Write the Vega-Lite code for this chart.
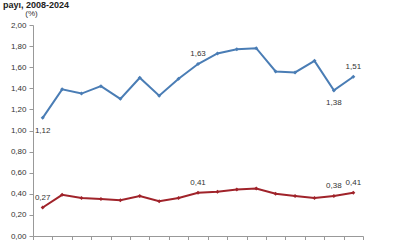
{
  "$schema": "https://vega.github.io/schema/vega-lite/v6.json",
  "width": 330,
  "height": 211,
  "autosize": {"type": "none"},
  "padding": {"left": 33, "top": 25, "right": 37, "bottom": 4},
  "background": "white",
  "title": {"text": "payı, 2008-2024", "anchor": "start", "frame": "group", "dx": -30, "offset": 0, "dy": 1, "fontSize": 9, "fontWeight": "bold", "font": "Liberation Sans", "color": "#222"},
  "config": {
    "view": {"stroke": null},
    "font": "Liberation Sans",
    "axis": {"grid": false, "domainColor": "#999", "tickColor": "#999", "labelFont": "Liberation Sans", "labelColor": "#333", "labelFontSize": 8}
  },
  "data": {"values": [
    {"yil": 2008, "seri": "A", "deger": 1.12, "etiket": "1,12"},
    {"yil": 2009, "seri": "A", "deger": 1.39, "etiket": ""},
    {"yil": 2010, "seri": "A", "deger": 1.35, "etiket": ""},
    {"yil": 2011, "seri": "A", "deger": 1.42, "etiket": ""},
    {"yil": 2012, "seri": "A", "deger": 1.30, "etiket": ""},
    {"yil": 2013, "seri": "A", "deger": 1.50, "etiket": ""},
    {"yil": 2014, "seri": "A", "deger": 1.33, "etiket": ""},
    {"yil": 2015, "seri": "A", "deger": 1.49, "etiket": ""},
    {"yil": 2016, "seri": "A", "deger": 1.63, "etiket": "1,63"},
    {"yil": 2017, "seri": "A", "deger": 1.73, "etiket": ""},
    {"yil": 2018, "seri": "A", "deger": 1.77, "etiket": ""},
    {"yil": 2019, "seri": "A", "deger": 1.78, "etiket": ""},
    {"yil": 2020, "seri": "A", "deger": 1.56, "etiket": ""},
    {"yil": 2021, "seri": "A", "deger": 1.55, "etiket": ""},
    {"yil": 2022, "seri": "A", "deger": 1.66, "etiket": ""},
    {"yil": 2023, "seri": "A", "deger": 1.38, "etiket": "1,38"},
    {"yil": 2024, "seri": "A", "deger": 1.51, "etiket": "1,51"},
    {"yil": 2008, "seri": "B", "deger": 0.27, "etiket": "0,27"},
    {"yil": 2009, "seri": "B", "deger": 0.39, "etiket": ""},
    {"yil": 2010, "seri": "B", "deger": 0.36, "etiket": ""},
    {"yil": 2011, "seri": "B", "deger": 0.35, "etiket": ""},
    {"yil": 2012, "seri": "B", "deger": 0.34, "etiket": ""},
    {"yil": 2013, "seri": "B", "deger": 0.38, "etiket": ""},
    {"yil": 2014, "seri": "B", "deger": 0.33, "etiket": ""},
    {"yil": 2015, "seri": "B", "deger": 0.36, "etiket": ""},
    {"yil": 2016, "seri": "B", "deger": 0.41, "etiket": "0,41"},
    {"yil": 2017, "seri": "B", "deger": 0.42, "etiket": ""},
    {"yil": 2018, "seri": "B", "deger": 0.44, "etiket": ""},
    {"yil": 2019, "seri": "B", "deger": 0.45, "etiket": ""},
    {"yil": 2020, "seri": "B", "deger": 0.40, "etiket": ""},
    {"yil": 2021, "seri": "B", "deger": 0.38, "etiket": ""},
    {"yil": 2022, "seri": "B", "deger": 0.36, "etiket": ""},
    {"yil": 2023, "seri": "B", "deger": 0.38, "etiket": "0,38"},
    {"yil": 2024, "seri": "B", "deger": 0.41, "etiket": "0,41"}
  ]},
  "encoding": {
    "x": {"field": "yil", "type": "quantitative",
      "scale": {"domain": [2007.5, 2024.5], "nice": false, "zero": false},
      "axis": {"values": [2007.5, 2008.5, 2009.5, 2010.5, 2011.5, 2012.5, 2013.5, 2014.5, 2015.5, 2016.5, 2017.5, 2018.5, 2019.5, 2020.5, 2021.5, 2022.5, 2023.5, 2024.5], "labels": false, "title": null, "tickSize": 4}},
    "y": {"field": "deger", "type": "quantitative",
      "scale": {"domain": [0, 2], "nice": false},
      "axis": {"values": [0, 0.2, 0.4, 0.6, 0.8, 1.0, 1.2, 1.4, 1.6, 1.8, 2.0], "labelExpr": "replace(format(datum.value, '.2f'), '.', ',')", "title": "(%)", "titleAngle": 0, "titleX": -2, "titleY": -8, "titleAlign": "center", "titleFontSize": 8, "titleFontWeight": "normal", "titleColor": "#333", "tickSize": 4, "labelPadding": 3}},
    "color": {"field": "seri", "type": "nominal", "scale": {"domain": ["A", "B"], "range": ["#4a7db5", "#a0232a"]}, "legend": null}
  },
  "layer": [
    {"mark": {"type": "line", "strokeWidth": 2}},
    {"mark": {"type": "point", "shape": "diamond", "filled": true, "size": 16, "opacity": 1}},
    {"transform": [{"filter": "datum.etiket != '' && !(datum.seri == 'A' && (datum.yil == 2008 || datum.yil == 2023))"}],
      "mark": {"type": "text", "dy": -10, "fontSize": 8, "color": "#333", "font": "Liberation Sans"},
      "encoding": {"text": {"field": "etiket"}, "color": {"value": "#333"}}},
    {"transform": [{"filter": "datum.seri == 'A' && (datum.yil == 2008 || datum.yil == 2023)"}],
      "mark": {"type": "text", "dy": 13, "fontSize": 8, "color": "#333", "font": "Liberation Sans"},
      "encoding": {"text": {"field": "etiket"}, "color": {"value": "#333"}}}
  ]
}
